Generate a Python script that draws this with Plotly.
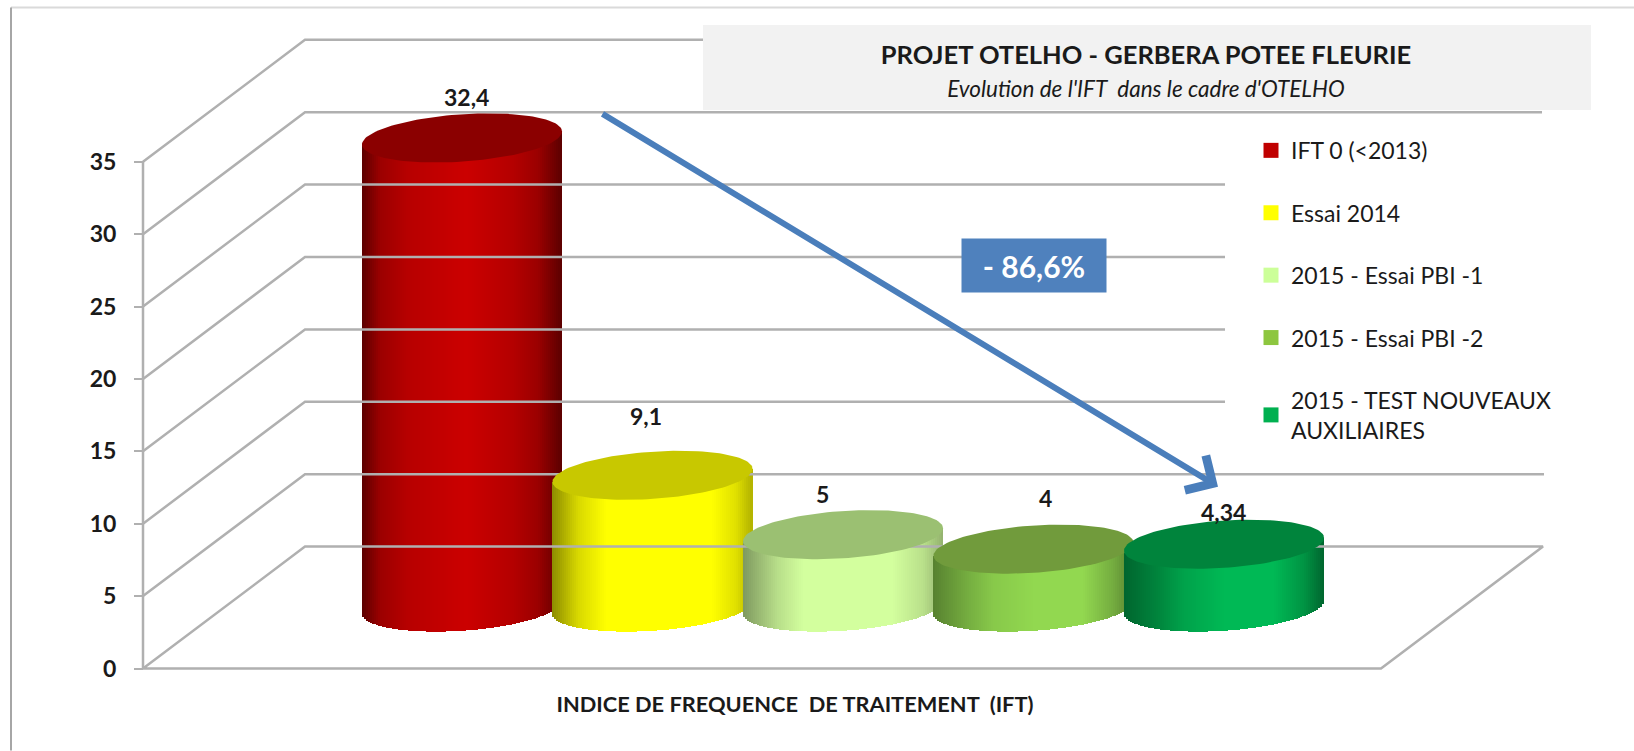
import numpy as np
import plotly.graph_objects as go

# ---------- data ----------
categories = ["IFT 0 (<2013)", "Essai 2014", "2015 - Essai PBI -1", "2015 - Essai PBI -2",
              "2015 - TEST NOUVEAUX<br>AUXILIAIRES"]
values = [32.4, 9.1, 5, 4, 4.34]
value_labels = ["32,4", "9,1", "5", "4", "4,34"]
y_ticks = [0, 5, 10, 15, 20, 25, 30, 35]

# ---------- style ----------
side_colors = ["#CC0000", "#FFFF00", "#D3FF9E", "#92D850", "#00B955"]
top_colors = ["#8B0000", "#C8C800", "#9BC072", "#719B3C", "#00843C"]
legend_colors = ["#C00000", "#FFFF00", "#CCFF99", "#8DC63F", "#00B050"]
shade_pos = [[0, .09, .23, .52, .76, .88, 1],
             [0, .13, .27, .5, .8, .92, 1],
             [0, .17, .3, .5, .75, .9, 1],
             [0, .17, .3, .5, .75, .9, 1],
             [0, .17, .3, .5, .75, .9, 1]]
shade_val = [[.45, .76, .9, 1, .88, .76, .45],
             [.55, .85, 1, 1, 1, .88, .7],
             [.6, .87, 1, 1, 1, .88, .7],
             [.6, .8, .93, 1, 1, .8, .6],
             [.55, .72, .88, 1, 1, .8, .55]]

PX = 14.49               # pixels per y unit
AX_X, Y_PX0 = 143, 669
X1 = 1590                # plot runs 0..1590 so the x-axis title centres on 795
Y_LOW = -1
BOTTOM_PX = Y_PX0 - Y_LOW * PX
DEPTH_X, DEPTH_Y = 162, 122 / PX
grid_ends = [1543, 1544, 1225, 1225, 1225, 1225, 1542, 703]
floor_right = 1381
first_cx, step_cx, half_w = 462, 190.5, 100
base_y = 61.5 / PX
tilt = 6.5 / PX
minor = 23.7 / PX
label_dy = [41, 59, 41, 51, 32]
label_dx = [4, -7, -21, 12, -1]
GRID = "#B0B0B0"
FONT = "Lato"

def hexrgb(h):
    return np.array([int(h[i:i + 2], 16) for i in (1, 3, 5)], float)

def px(x): return x / X1
def py(y): return (BOTTOM_PX - y) / BOTTOM_PX

fig = go.Figure()

# back walls and grid lines, all tied to the y-axis values
for v, end in zip(y_ticks, grid_ends):
    if v == 0:
        xs = [AX_X, AX_X + DEPTH_X, end, floor_right, AX_X]
        ys = [0, DEPTH_Y, DEPTH_Y, 0, 0]
    else:
        xs = [AX_X, AX_X + DEPTH_X, end]
        ys = [v, v + DEPTH_Y, v + DEPTH_Y]
    fig.add_trace(go.Scatter(x=xs, y=ys, mode="lines", line=dict(color=GRID, width=2.5),
                             showlegend=False, hoverinfo="skip"))
fig.add_trace(go.Scatter(x=[AX_X, AX_X], y=[y_ticks[0], y_ticks[-1]], mode="lines",
                         line=dict(color=GRID, width=2.5),
                         showlegend=False, hoverinfo="skip"))

# cylinders
N = 100
for i, v in enumerate(values):
    cx = first_cx + i * step_cx
    u = (np.arange(N) + .5) / N * 2 - 1
    frac = (u + 1) / 2
    shade = np.interp(frac, shade_pos[i], shade_val[i])
    base_rgb = hexrgb(side_colors[i])
    cols = [f"rgb({int(r)},{int(g)},{int(b)})" for r, g, b in np.outer(shade, base_rgb)]
    arc = minor * np.sqrt(1 - u ** 2)
    fig.add_trace(go.Bar(x=cx + u * half_w, y=v + arc, base=base_y + tilt * u - arc,
                         width=2 * half_w / N + .4, marker=dict(color=cols, line=dict(width=0)),
                         showlegend=False, hoverinfo="skip"))
    t = np.linspace(0, 2 * np.pi, 121)
    fig.add_trace(go.Scatter(x=cx + half_w * np.cos(t),
                             y=base_y + v + tilt * np.cos(t) + minor * np.sin(t),
                             mode="lines", fill="toself", fillcolor=top_colors[i],
                             line=dict(width=0, color=top_colors[i]),
                             showlegend=False, hoverinfo="skip"))

# legend entries
for i, name in enumerate(categories):
    fig.add_trace(go.Scatter(x=[None], y=[None], mode="markers", name=name, legendgroup=name,
                             marker=dict(symbol="square", size=15, color=legend_colors[i])))

annotations = []
for i, v in enumerate(values):
    annotations.append(dict(x=first_cx + i * step_cx, y=base_y + v, text=value_labels[i],
                            xshift=label_dx[i], yshift=label_dy[i], showarrow=False,
                            font=dict(family=FONT, size=23, color="#1a1a1a", weight="bold")))

# trend arrow and its callout
annotations.append(dict(x=1218, y=(Y_PX0 - 487) / PX, ax=601, ay=(Y_PX0 - 113) / PX,
                        xref="x", yref="y", axref="x", ayref="y", text="", showarrow=True,
                        arrowhead=4, arrowsize=1.3, arrowwidth=6, arrowcolor="#4A7EBB", standoff=0))
annotations.append(dict(x=1034, y=(Y_PX0 - 265.5) / PX, text="<b>- 86,6%</b>", showarrow=False,
                        bgcolor="#4F81BD", width=142, height=51, valign="middle",
                        font=dict(family=FONT, size=30, color="white")))

shapes = [
    dict(type="line", xref="paper", yref="paper", x0=px(11), x1=px(1634), y0=py(7.5), y1=py(7.5),
         line=dict(color="#DADADA", width=2), layer="below"),
    dict(type="line", xref="paper", yref="paper", x0=px(11), x1=px(11), y0=py(7.5), y1=py(751),
         line=dict(color="#A6A6A6", width=2), layer="below"),
    dict(type="rect", xref="paper", yref="paper", x0=px(703), x1=px(1591), y0=py(110), y1=py(25),
         fillcolor="#F2F2F2", line=dict(width=0), layer="above"),
]

fig.update_layout(
    width=1634, height=751, autosize=False,
    margin=dict(l=0, r=1634 - X1, t=0, b=751 - BOTTOM_PX),
    paper_bgcolor="white", plot_bgcolor="white",
    barmode="overlay", bargap=0,
    font=dict(family=FONT, color="#1a1a1a"),
    title=dict(text="<b>PROJET OTELHO - GERBERA POTEE FLEURIE</b><br>"
                    "<i><span style='font-size:22.5px'>Evolution de l'IFT  dans le cadre d'OTELHO</span></i>",
               font=dict(family=FONT, size=25.5, color="#1a1a1a"),
               x=1146 / 1634, xanchor="center", xref="container",
               y=1 - 64 / 751, yanchor="middle", yref="container"),
    xaxis=dict(range=[0, X1], showgrid=False, zeroline=False, showticklabels=False, ticks="",
               showline=False,
               title=dict(text="<b>INDICE DE FREQUENCE\u00a0 DE TRAITEMENT\u00a0 (IFT)</b>", standoff=13,
                          font=dict(family=FONT, size=21.8, color="#1a1a1a"))),
    yaxis=dict(range=[Y_LOW, Y_PX0 / PX], tickvals=y_ticks, ticks="outside", ticklen=9, tickwidth=2,
               tickcolor=GRID, showgrid=False, zeroline=False, showline=False,
               anchor="free", position=AX_X / X1,
               ticklabelstandoff=13,
               tickfont=dict(family=FONT, size=23, color="#1a1a1a", weight="bold")),
    legend=dict(x=px(1251), xanchor="left", y=py(129), yanchor="top", tracegroupgap=29.5,
                font=dict(family=FONT, size=23, color="#1a1a1a"), bgcolor="rgba(0,0,0,0)",
                itemclick=False, itemdoubleclick=False),
    annotations=annotations, shapes=shapes,
)

fig.write_html("out.html", config=dict(displayModeBar=False),
               post_script="document.body.style.margin='0';")
